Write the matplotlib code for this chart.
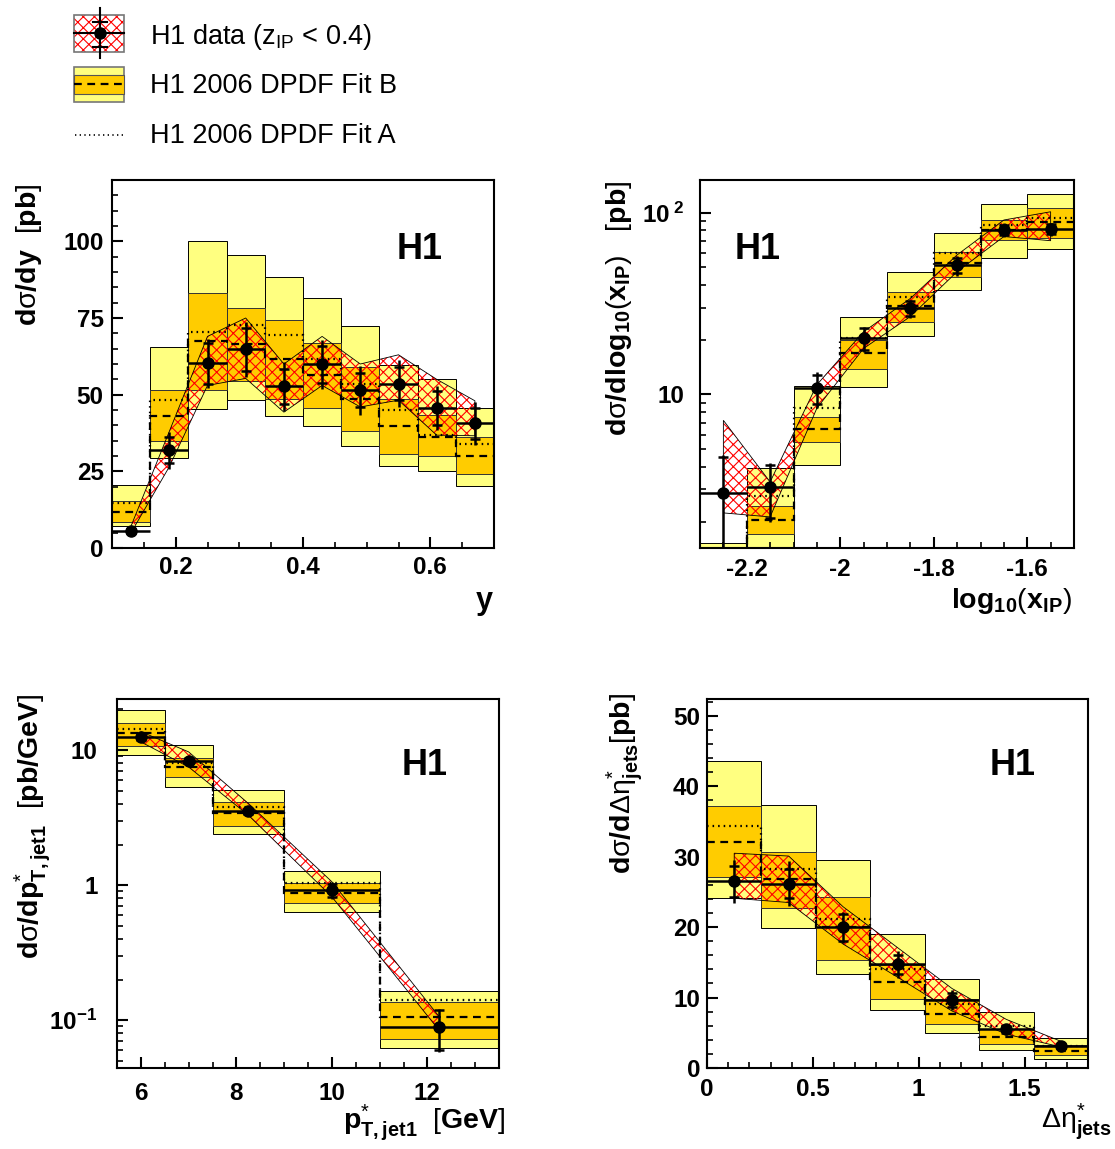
import numpy as np
import matplotlib
matplotlib.use("Agg")
import matplotlib.pyplot as plt
from matplotlib.ticker import MultipleLocator, LogLocator, NullFormatter
from matplotlib.patches import Rectangle

plt.rcParams['font.family'] = 'Liberation Sans'
plt.rcParams['font.weight'] = 'bold'
plt.rcParams['mathtext.fontset'] = 'custom'
plt.rcParams['mathtext.rm'] = 'Liberation Sans:weight=normal'
plt.rcParams['mathtext.bf'] = 'Liberation Sans:weight=bold'
plt.rcParams['mathtext.it'] = 'Liberation Sans:weight=normal:slant=italic'
plt.rcParams['hatch.linewidth'] = 0.8

YELLOW = '#ffff80'
ORANGE = '#ffcc00'
W, H = 1115, 1149

# ---- panel 1: d sigma / dy ----
y_edges = [0.10, 0.16, 0.22, 0.28, 0.34, 0.40, 0.46, 0.52, 0.58, 0.64, 0.70]
y_x = [0.13, 0.19, 0.25, 0.31, 0.37, 0.43, 0.49, 0.55, 0.61, 0.67]
y_data = [5.5, 31.9, 60.2, 64.8, 52.8, 59.9, 51.5, 53.6, 45.7, 40.6]
y_stat = [0.6, 4.2, 6.7, 7.0, 5.7, 6.1, 5.6, 5.5, 5.5, 5.2]
y_tot = [1.0, 6.0, 7.9, 9.0, 8.0, 8.0, 8.0, 7.7, 7.2, 7.0]
y_band_hi = [7.2, 38.0, 69.0, 75.0, 60.0, 69.0, 60.0, 63.0, 55.0, 48.0]
y_band_lo = [5.0, 26.5, 53.0, 55.3, 44.3, 53.0, 46.0, 48.2, 36.8, 36.6]
y_yel_hi = [20.7, 65.4, 100.0, 95.4, 88.4, 81.5, 72.3, 59.6, 55.2, 45.8]
y_org_hi = [15.3, 51.5, 83.3, 78.4, 74.2, 66.8, 59.0, 48.7, 43.3, 36.2]
y_fitb = [11.7, 43.0, 67.5, 66.6, 61.7, 56.3, 48.7, 39.7, 36.2, 29.9]
y_org_lo = [8.5, 34.9, 51.6, 54.5, 48.7, 45.7, 38.2, 30.8, 29.9, 24.0]
y_yel_lo = [7.1, 29.4, 45.3, 48.2, 43.0, 39.7, 33.2, 26.6, 25.0, 20.1]
y_fita = [14.8, 48.4, 70.4, 72.6, 69.3, 61.5, 53.6, 44.9, 36.8, 34.0]

# ---- panel 2: d sigma / d log10(x_IP) ----
xp_edges = [-2.3, -2.2, -2.1, -2.0, -1.9, -1.8, -1.7, -1.6, -1.5]
xp_x = [-2.25, -2.15, -2.05, -1.95, -1.85, -1.75, -1.65, -1.55]
xp_data = [2.88, 3.08, 10.8, 20.3, 29.7, 51.5, 80.4, 81.0]
xp_stat = [1.65, 1.0, 2.0, 2.8, 2.8, 5.0, 5.0, 5.0]
xp_tot = [1.75, 1.1, 2.4, 3.3, 3.4, 6.5, 7.0, 7.0]
xp_band_hi = [7.2, 3.3, 11.3, 22.1, 33.7, 58.5, 91.0, 101.0]
xp_band_lo = [2.23, 2.12, 8.4, 17.9, 26.8, 47.3, 73.8, 70.0]
xp_yel_hi = [1.53, 3.92, 11.1, 26.8, 47.3, 77.6, 112.0, 126.0]
xp_org_hi = [1.3, 2.43, 7.47, 19.9, 36.7, 61.0, 91.0, 106.0]
xp_fitb = [1.2, 2.05, 6.45, 16.8, 30.6, 52.6, 80.3, 88.5]
xp_org_lo = [1.1, 1.70, 5.45, 13.8, 25.1, 44.4, 70.7, 72.0]
xp_yel_lo = [1.0, 1.35, 4.08, 11.0, 20.9, 37.5, 56.5, 62.8]
xp_fita = [1.35, 2.75, 8.38, 20.5, 34.5, 59.7, 85.5, 93.0]

# ---- panel 3: d sigma / d pT*jet1 ----
pt_edges = [5.5, 6.5, 7.5, 9.0, 11.0, 13.5]
pt_x = [6.0, 7.0, 8.25, 10.0, 12.25]
pt_data = [12.4, 8.34, 3.53, 0.918, 0.0893]
pt_stat = [0.5, 0.35, 0.15, 0.10, 0.029]
pt_tot = [0.8, 0.6, 0.3, 0.13, 0.031]
pt_band_hi = [13.7, 9.7, 4.03, 1.06, 0.106]
pt_band_lo = [11.5, 7.5, 3.3, 0.82, 0.084]
pt_yel_hi = [19.8, 11.0, 5.05, 1.28, 0.165]
pt_org_hi = [15.8, 8.67, 4.14, 1.04, 0.137]
pt_fitb = [13.3, 7.53, 3.45, 0.88, 0.105]
pt_org_lo = [10.7, 6.28, 2.75, 0.74, 0.073]
pt_yel_lo = [9.2, 5.35, 2.41, 0.628, 0.0624]
pt_fita = [14.3, 8.05, 3.8, 1.03, 0.141]

# ---- panel 4: d sigma / d Delta eta* ----
de_edges = [0.0, 0.257, 0.514, 0.771, 1.029, 1.286, 1.543, 1.8]
de_x = [0.1286, 0.3857, 0.6429, 0.9, 1.1571, 1.4143, 1.6714]
de_data = [26.5, 26.2, 20.0, 14.7, 9.7, 5.5, 3.1]
de_stat = [2.2, 2.1, 1.9, 1.4, 1.0, 0.5, 0.3]
de_tot = [3.0, 3.2, 2.2, 1.9, 1.4, 0.8, 0.4]
de_band_hi = [30.5, 30.1, 22.9, 17.1, 11.3, 6.9, 3.8]
de_band_lo = [24.1, 23.5, 17.6, 12.9, 8.1, 4.8, 3.0]
de_yel_hi = [43.6, 37.3, 29.5, 19.0, 12.7, 7.96, 4.3]
de_org_hi = [37.2, 30.7, 24.3, 14.6, 9.76, 5.6, 3.3]
de_fitb = [32.1, 26.8, 20.0, 12.2, 7.7, 4.4, 2.4]
de_org_lo = [27.1, 22.7, 15.4, 9.86, 6.3, 3.46, 1.8]
de_yel_lo = [24.2, 19.95, 13.3, 8.2, 4.9, 2.5, 1.3]
de_fita = [34.3, 28.2, 21.2, 14.0, 9.1, 5.9, 3.1]


def draw_panel(ax, edges, yel_lo, yel_hi, org_lo, org_hi, fitb, fita,
               x, data, stat, tot, band_lo, band_hi):
    edges = np.asarray(edges)
    left = edges[:-1]
    wid = np.diff(edges)
    ax.bar(left, np.subtract(yel_hi, yel_lo), width=wid, bottom=yel_lo, align='edge',
           color=YELLOW, edgecolor='black', linewidth=0.7, zorder=1)
    ax.bar(left, np.subtract(org_hi, org_lo), width=wid, bottom=org_lo, align='edge',
           color=ORANGE, edgecolor='#333333', linewidth=0.7, zorder=2)
    bx = np.asarray(x)
    ax.fill_between(bx, band_lo, band_hi, facecolor='none', edgecolor='red',
                    hatch='xxx', linewidth=0, zorder=3)
    ax.fill(np.r_[bx, bx[::-1]], np.r_[band_hi, band_lo[::-1]], facecolor='none',
            edgecolor='black', linewidth=0.6, zorder=3)
    ax.stairs(fitb, edges, baseline=None, color='black', linewidth=1.6,
              linestyle=(0, (3.5, 2.5)), zorder=4)
    ax.stairs(fita, edges, baseline=None, color='black', linewidth=1.6,
              linestyle=(0, (0.7, 1.8)), zorder=4)
    ax.errorbar(x, data, xerr=wid / 2, yerr=tot, fmt='o', color='black', ms=8,
                elinewidth=1.8, capsize=0, zorder=6)
    ax.errorbar(x, data, yerr=stat, fmt='none', ecolor='black', elinewidth=0,
                capsize=3.5, capthick=1.8, zorder=6)


def style(ax, pad_y=7, pad_x=6):
    for s in ax.spines.values():
        s.set_linewidth(1.5)
    ax.tick_params(which='both', direction='in', top=False, right=False, labelsize=17.5)
    ax.tick_params(which='major', length=8, width=1.5)
    ax.tick_params(which='minor', length=4.5, width=1.2)
    ax.tick_params(axis='y', which='major', pad=pad_y)
    ax.tick_params(axis='x', which='major', pad=pad_x)


fig = plt.figure(figsize=(W / 100, H / 100), dpi=100)


def add_ax(l, t, r, b):
    return fig.add_axes([l / W, 1 - b / H, (r - l) / W, (b - t) / H])


def fx(px):
    return px / W


def fy(py):
    return 1 - py / H


# panel 1
ax1 = add_ax(112, 180, 494, 548)
draw_panel(ax1, y_edges, y_yel_lo, y_yel_hi, y_org_lo, y_org_hi, y_fitb, y_fita,
           y_x, y_data, y_stat, y_tot, np.array(y_band_lo), np.array(y_band_hi))
ax1.set_xlim(0.1, 0.7)
ax1.set_ylim(0, 120)
ax1.set_xticks([0.2, 0.4, 0.6], ['0.2', '0.4', '0.6'])
ax1.set_yticks([0, 25, 50, 75, 100])
ax1.xaxis.set_minor_locator(MultipleLocator(0.05))
ax1.yaxis.set_minor_locator(MultipleLocator(5))
style(ax1, pad_y=6, pad_x=6)
ax1.text(0.804, 0.81, 'H1', transform=ax1.transAxes, fontsize=26, ha='center', va='center')

# panel 2
ax2 = add_ax(700, 180, 1074, 548)
ax2.set_yscale('log')
draw_panel(ax2, xp_edges, xp_yel_lo, xp_yel_hi, xp_org_lo, xp_org_hi, xp_fitb, xp_fita,
           xp_x, xp_data, xp_stat, xp_tot, np.array(xp_band_lo), np.array(xp_band_hi))
ax2.set_xlim(-2.3, -1.5)
ax2.set_ylim(1.43, 151)
ax2.set_xticks([-2.2, -2.0, -1.8, -1.6], ['-2.2', '-2', '-1.8', '-1.6'])
ax2.set_yticks([10, 100], ['10', r'$\mathbf{10}^{\mathbf{\ 2}}$'])
ax2.xaxis.set_minor_locator(MultipleLocator(0.05))
ax2.yaxis.set_minor_locator(LogLocator(base=10, subs=np.arange(2, 10)))
ax2.yaxis.set_minor_formatter(NullFormatter())
style(ax2, pad_y=11, pad_x=7)
ax2.text(0.155, 0.81, 'H1', transform=ax2.transAxes, fontsize=26, ha='center', va='center')

# panel 3
ax3 = add_ax(117, 699, 499, 1068)
ax3.set_yscale('log')
draw_panel(ax3, pt_edges, pt_yel_lo, pt_yel_hi, pt_org_lo, pt_org_hi, pt_fitb, pt_fita,
           pt_x, pt_data, pt_stat, pt_tot, np.array(pt_band_lo), np.array(pt_band_hi))
ax3.set_xlim(5.5, 13.5)
ax3.set_ylim(0.0443, 23.9)
ax3.set_xticks([6, 8, 10, 12], ['6', '8', '10', '12'])
ax3.set_yticks([0.1, 1, 10], [r'$\mathbf{10}^{\mathbf{-1}}$', '1', '10'])
ax3.xaxis.set_minor_locator(MultipleLocator(0.5))
ax3.yaxis.set_minor_locator(LogLocator(base=10, subs=np.arange(2, 10)))
ax3.yaxis.set_minor_formatter(NullFormatter())
style(ax3, pad_y=14, pad_x=10)
ax3.text(0.804, 0.82, 'H1', transform=ax3.transAxes, fontsize=26, ha='center', va='center')

# panel 4
ax4 = add_ax(707, 699, 1088, 1068)
draw_panel(ax4, de_edges, de_yel_lo, de_yel_hi, de_org_lo, de_org_hi, de_fitb, de_fita,
           de_x, de_data, de_stat, de_tot, np.array(de_band_lo), np.array(de_band_hi))
ax4.set_xlim(0, 1.8)
ax4.set_ylim(0, 52.4)
ax4.set_xticks([0, 0.5, 1, 1.5], ['0', '0.5', '1', '1.5'])
ax4.set_yticks([0, 10, 20, 30, 40, 50])
ax4.xaxis.set_minor_locator(MultipleLocator(0.1))
ax4.yaxis.set_minor_locator(MultipleLocator(2))
style(ax4, pad_y=5, pad_x=7)
ax4.text(0.803, 0.82, 'H1', transform=ax4.transAxes, fontsize=26, ha='center', va='center')

# axis titles
fig.text(fx(29), fy(183), r'$\mathbf{d}\mathrm{\sigma}\mathbf{/dy}\ \ [\mathbf{pb}]$',
         rotation=90, ha='center', va='top', fontsize=20.5)
fig.text(fx(619), fy(181), r'$\mathbf{d}\mathrm{\sigma}\mathbf{/dlog}_{\mathbf{10}}(\mathbf{x}_{\mathbf{IP}})\ \ \ [\mathbf{pb}]$',
         rotation=90, ha='center', va='top', fontsize=20.5)
fig.text(fx(33), fy(693), r'$\mathbf{d}\mathrm{\sigma}\mathbf{/dp}^{*}_{\mathbf{T,jet1}}\ \ [\mathbf{pb/GeV}]$',
         rotation=90, ha='center', va='top', fontsize=20.5)
fig.text(fx(625), fy(693), r'$\mathbf{d}\mathrm{\sigma}\mathbf{/d}\mathrm{\Delta\eta}^{*}_{\mathbf{jets}}[\mathbf{pb}]$',
         rotation=90, ha='center', va='top', fontsize=20.5)

fig.text(fx(493), fy(609), 'y', ha='right', va='baseline', fontsize=22)
fig.text(fx(1072), fy(608), r'$\mathbf{log}_{\mathbf{10}}(\mathbf{x}_{\mathbf{IP}})$',
         ha='right', va='baseline', fontsize=20.5)
fig.text(fx(505), fy(1129), r'$\mathbf{p}^{*}_{\mathbf{T,jet1}}\ \ [\mathbf{GeV}]$',
         ha='right', va='baseline', fontsize=20.5)
fig.text(fx(1112), fy(1128), r'$\mathrm{\Delta\eta}^{*}_{\mathbf{jets}}$',
         ha='right', va='baseline', fontsize=20.5)

# legend block (pixel coordinates)
leg = fig.add_axes([0, 1 - 160 / H, 1, 160 / H])
leg.set_xlim(0, W)
leg.set_ylim(160, 0)
leg.axis('off')
leg.add_patch(Rectangle((74, 15), 50, 37, facecolor='none', edgecolor='red',
                        hatch='xxx', linewidth=0))
leg.add_patch(Rectangle((74, 15), 50, 37, facecolor='none', edgecolor='#777777', linewidth=1.2))
leg.plot([74, 124], [33.3, 33.3], color='black', lw=1.5)
leg.plot([100, 100], [8, 58], color='black', lw=1.5)
leg.plot([93, 107], [21.7, 21.7], color='black', lw=1.5)
leg.plot([93, 107], [46.7, 46.7], color='black', lw=1.5)
leg.plot([100], [33.3], 'o', color='black', ms=8)
leg.add_patch(Rectangle((74, 67), 50, 35, facecolor=YELLOW, edgecolor='#777777', linewidth=1.2))
leg.add_patch(Rectangle((74, 75), 50, 19, facecolor=ORANGE, edgecolor='#555555', linewidth=0.8))
leg.plot([74, 124], [84.3, 84.3], color='black', lw=1.6, linestyle=(0, (3.5, 2.5)))
leg.plot([75, 123], [135, 135], color='black', lw=1.2, linestyle=(0, (0.8, 2.0)))

leg.text(150, 44.3, r'H1 data (z$_{\mathrm{IP}}$ < 0.4)', fontsize=19.5, fontweight='normal',
         ha='left', va='baseline')
leg.text(150, 93.3, 'H1 2006 DPDF Fit B', fontsize=19.5, fontweight='normal',
         ha='left', va='baseline')
leg.text(150, 143.3, 'H1 2006 DPDF Fit A', fontsize=19.5, fontweight='normal',
         ha='left', va='baseline')

fig.savefig('out.png', dpi=100)
